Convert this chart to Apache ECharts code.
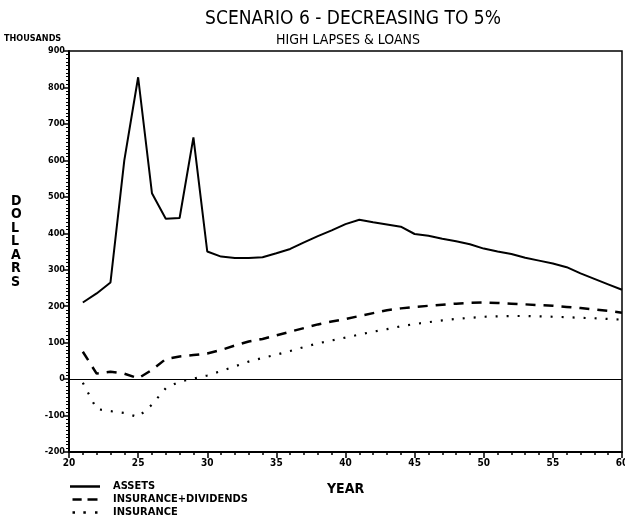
<!DOCTYPE html>
<html>
<head>
<meta charset="utf-8">
<script src="https://cdn.jsdelivr.net/npm/echarts@6/dist/echarts.min.js"></script>
<style>html,body{margin:0;padding:0;background:#fff}#c{width:625px;height:521px}</style>
</head>
<body>
<div id="c"></div>
<script>
var years = [21,22,23,24,25,26,27,28,29,30,31,32,33,34,35,36,37,38,39,40,41,42,43,44,45,46,47,48,49,50,51,52,53,54,55,56,57,58,59,60];
var assets = [210,235,265,600,828,510,440,442,663,350,336,332,332,334,345,357,375,392,408,425,437,430,424,418,398,393,385,378,370,358,350,343,333,325,317,307,290,275,260,245];
var insDiv = [75,15,20,15,2,25,55,62,66,70,80,92,103,110,120,130,140,150,158,165,173,181,189,194,198,201,204,207,209,210,209,207,205,203,201,198,195,191,187,182];
var insurance = [-10,-82,-88,-93,-104,-70,-25,-7,1,10,22,35,48,58,67,77,88,98,106,114,122,130,137,145,151,156,161,165,168,171,172,173,173,172,171,170,168,167,165,163];
var yTicks = [-200,-100,0,100,200,300,400,500,600,700,800,900];
var xTicks = [20,25,30,35,40,45,50,55,60];

function pairs(v){ return years.map(function(y,i){ return [y, v[i]]; }); }

var F = "'DejaVu Sans Condensed','DejaVu Sans',sans-serif";
var chart = echarts.init(document.getElementById('c'), null, {renderer:'canvas'});
chart.setOption({
  animation:false,
  backgroundColor:'#fff',
  title:[
    {text:'SCENARIO 6 - DECREASING TO 5%', left:348, top:5, textAlign:'center',
     textStyle:{fontFamily:F, fontSize:19, fontWeight:'normal', color:'#000'}},
    {text:'HIGH LAPSES & LOANS', left:343, top:28, textAlign:'center',
     textStyle:{fontFamily:F, fontSize:14, fontWeight:'normal', color:'#000'}}
  ],
  graphic:[
    {type:'text', left:4, top:34, style:{text:'THOUSANDS', font:"bold 9px "+F, fill:'#000'}},
    {type:'text', left:11, top:194, style:{text:'D\nO\nL\nL\nA\nR\nS', font:"bold 14px "+F, fill:'#000', lineHeight:13.5, textAlign:'left'}}
  ],
  legend:{
    orient:'vertical', left:70, bottom:2, padding:0, itemWidth:30, itemHeight:2.5, itemGap:0,
    textStyle:{fontFamily:F, fontSize:11, fontWeight:'bold', color:'#000', padding:[0,0,0,8], lineHeight:13},
    itemStyle:{color:'#000', borderWidth:0},
    data:[
      {name:'ASSETS', icon:'rect'},
      {name:'INSURANCE+DIVIDENDS', icon:'path://M0,0h11v3h-11z M18,0h12v3h-12z'},
      {name:'INSURANCE', icon:'path://M0,0h3v3h-3z M13,0h3v3h-3z M27,0h3v3h-3z'}
    ]
  },
  grid:{left:69, right:3, top:51, bottom:69, show:true, borderColor:'#000', borderWidth:1.5, outerBoundsMode:'none', containLabel:false},
  xAxis:{
    type:'value', min:20, max:60, interval:5,
    name:'YEAR', nameLocation:'middle', nameGap:30,
    nameTextStyle:{fontFamily:F, fontSize:14, fontWeight:'bold', color:'#000'},
    axisLine:{onZero:false, lineStyle:{color:'#000', width:2}},
    axisTick:{length:6, lineStyle:{color:'#000', width:1.5}},
    minorTick:{show:true, splitNumber:5, length:3, lineStyle:{color:'#000', width:1.5}},
    splitLine:{show:false},
    axisLabel:{fontFamily:F, fontSize:10, fontWeight:'bold', color:'#000', margin:6,
      formatter:function(v){ return xTicks.indexOf(v)>=0 ? String(v) : ''; }}
  },
  yAxis:{
    type:'value', min:-200, max:900, interval:100,
    axisLine:{lineStyle:{color:'#000', width:2}},
    axisTick:{length:5, lineStyle:{color:'#000', width:1.5}},
    minorTick:{show:true, splitNumber:10, length:3, lineStyle:{color:'#000', width:1}},
    splitLine:{show:false},
    axisLabel:{fontFamily:F, fontSize:9, fontWeight:'bold', color:'#000', margin:4,
      formatter:function(v){ return yTicks.indexOf(v)>=0 ? String(v) : ''; }}
  },
  series:[
    {name:'ASSETS', type:'line', data:pairs(assets), symbol:'none',
     lineStyle:{color:'#000', width:2, type:'solid'}, itemStyle:{color:'#000'},
     markLine:{silent:true, symbol:'none', label:{show:false},
       lineStyle:{color:'#000', width:1.2, type:'solid'}, data:[{yAxis:0}]}},
    {name:'INSURANCE+DIVIDENDS', type:'line', data:pairs(insDiv), symbol:'none',
     lineStyle:{color:'#000', width:2.5, type:[10,8]}, itemStyle:{color:'#000'}},
    {name:'INSURANCE', type:'line', data:pairs(insurance), symbol:'none',
     lineStyle:{color:'#000', width:2.2, type:[2,9]}, itemStyle:{color:'#000'}}
  ]
});
</script>
</body>
</html>
